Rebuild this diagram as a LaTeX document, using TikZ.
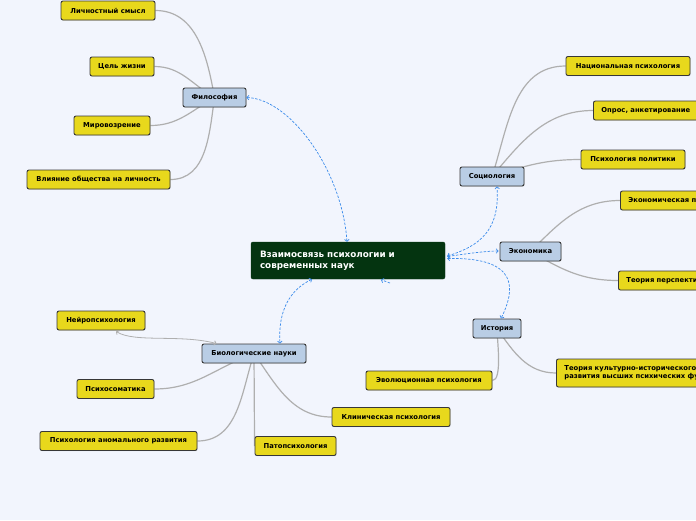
\documentclass[tikz,border=0pt]{standalone}
\usepackage{fontspec}
\setmainfont{DejaVu Sans}
\usetikzlibrary{arrows.meta,backgrounds,shadows,calc}
\definecolor{bg}{RGB}{242,245,253}
\definecolor{leaf}{RGB}{232,216,28}
\definecolor{topic}{RGB}{185,205,229}
\definecolor{mainc}{RGB}{4,52,16}
\definecolor{edgec}{RGB}{55,55,55}
\definecolor{linkc}{RGB}{175,175,175}
\definecolor{relc}{RGB}{60,140,235}
\tikzset{
 smalltip/.tip={Straight Barb[length=2pt,width=4.5pt]},
 box/.style={draw=edgec, line width=0.9pt, rounded corners=2pt, minimum height=19pt,
   inner xsep=2pt, inner ysep=0pt, font=\bfseries\fontsize{6.8}{8}\selectfont,
   drop shadow={shadow xshift=0.7pt, shadow yshift=-0.7pt, opacity=0.25}},
 leafbox/.style={box, fill=leaf},
 topicbox/.style={box, fill=topic},
 cutbox/.style={leafbox, anchor=west, inner xsep=8pt, align=left},
 branch/.style={draw=linkc, line width=1.2pt},
 relation/.style={draw=relc, dash pattern=on 2.5pt off 1.5pt, line width=0.7pt, smalltip-smalltip},
}
\begin{document}
\begin{tikzpicture}[x=1pt,y=1pt]
\useasboundingbox (0,0) rectangle (696,-520);

% central
\node[fill=mainc, draw=mainc, rounded corners=2pt, text=white, minimum width=194pt, minimum height=37pt,
  text width=176pt, inner xsep=9pt, align=left, font=\bfseries\fontsize{8.8}{10.8}\selectfont]
  (central) at (348,-260.5) {Взаимосвязь психологии и\\современных наук};

% Философия
\node[topicbox, minimum width=63pt] (phil) at (214.5,-97.5) {Философия};
\node[leafbox, minimum width=94pt] (p1) at (108,-10.5) {Личностный смысл};
\node[leafbox, minimum width=64pt] (p2) at (122,-66.5) {Цель жизни};
\node[leafbox, minimum width=76pt] (p3) at (112,-125.5) {Мировозрение};
\node[leafbox, minimum width=143pt] (p4) at (98.5,-179.5) {Влияние общества на личность};

% Социология
\node[topicbox, minimum width=64pt] (soc) at (492,-176.5) {Социология};
\node[leafbox, minimum width=124pt] (s1) at (628,-66) {Национальная психология};
\node[cutbox] (s2) at (593,-110.5) {Опрос, анкетирование};
\node[leafbox, minimum width=104pt] (s3) at (633,-159.5) {Психология политики};

% Экономика
\node[topicbox, minimum width=61pt] (eco) at (530.5,-251.5) {Экономика};
\node[cutbox] (e1) at (620,-200.5) {Экономическая психология};
\node[cutbox] (e2) at (618,-280.5) {Теория перспектив};

% История
\node[topicbox, minimum width=48pt] (hist) at (497,-328.5) {История};
\node[leafbox, minimum width=126pt] (h1) at (429,-380.5) {Эволюционная психология};
\node[cutbox, minimum height=28pt, font=\bfseries\fontsize{6.8}{7.8}\selectfont] (h2) at (556,-373) {Теория культурно-исторического\\развития высших психических функций};

% Биологические науки
\node[topicbox, minimum width=104pt] (bio) at (254,-353.5) {Биологические науки};
\node[leafbox, minimum width=88pt] (b1) at (101,-320.5) {Нейропсихология};
\node[leafbox, minimum width=77pt] (b2) at (115.5,-389) {Психосоматика};
\node[leafbox, minimum width=157pt] (b3) at (118.5,-441) {Психология аномального развития};
\node[leafbox, minimum width=81pt] (b4) at (295.5,-446) {Патопсихология};
\node[leafbox, minimum width=118pt] (b5) at (391,-417) {Клиническая психология};

\coordinate (stubend) at (390,-283);

\begin{scope}[on background layer]
\fill[bg] (0,0) rectangle (696,-520);
% branches
\draw[branch] (phil.center) to[out=100,in=0] (p1.east);
\draw[branch] (phil.center) to[out=150,in=0] (p2.east);
\draw[branch] (phil.center) to[out=210,in=0] (p3.east);
\draw[branch] (phil.center) to[out=262,in=0] (p4.east);

\draw[branch] (soc.center) to[out=72,in=180] (s1.west);
\draw[branch] (soc.center) to[out=50,in=180] (s2.west);
\draw[branch] (soc.center) to[out=18,in=180] (s3.west);

\draw[branch] (eco.center) to[out=45,in=180] (e1.west);
\draw[branch] (eco.center) to[out=-30,in=180] (e2.west);

\draw[branch] (hist.center) to[out=-90,in=0,looseness=0.5] (h1.east);
\draw[branch] (hist.center) to[out=-55,in=180] (h2.west);

\draw[branch] (bio.center) to[out=200,in=0] (b2.east);
\draw[branch] (bio.center) to[out=252,in=0] (b3.east);
\draw[branch] (bio.center) -- (b4.west);
\draw[branch] (bio.center) to[out=-55,in=180] (b5.west);
\end{scope}
\draw[draw=linkc, line width=0.8pt, smalltip-smalltip] ($(b1.south)+(15,-1)$) .. controls (135,-343) and (180,-334) .. ($(bio.north west)+(15,0)$);

% relations
\draw[relation] (phil.east) .. controls (290,-99) and (342,-170) .. ($(central.north)+(-1,0)$);
\draw[relation] ($(central.south)+(-36,0)$) .. controls (290,-290) and (278,-310) .. ($(bio.north)+(26,0)$);
\draw[relation] ($(central.east)+(2,4.5)$) .. controls (480,-246) and (500,-230) .. ($(soc.south)+(5,0)$);
\draw[relation] ($(central.east)+(2,4)$) .. controls (465,-254) and (485,-251) .. ($(eco.west)+(-1,0.5)$);
\draw[relation] ($(central.east)+(2,2)$) .. controls (520,-257) and (515,-290) .. ($(hist.north)+(4,0)$);
\draw[draw=relc, dash pattern=on 2.5pt off 1.5pt, line width=0.7pt, -smalltip] (stubend) -- ($(central.south)+(33,-0.5)$);
\end{tikzpicture}
\end{document}
